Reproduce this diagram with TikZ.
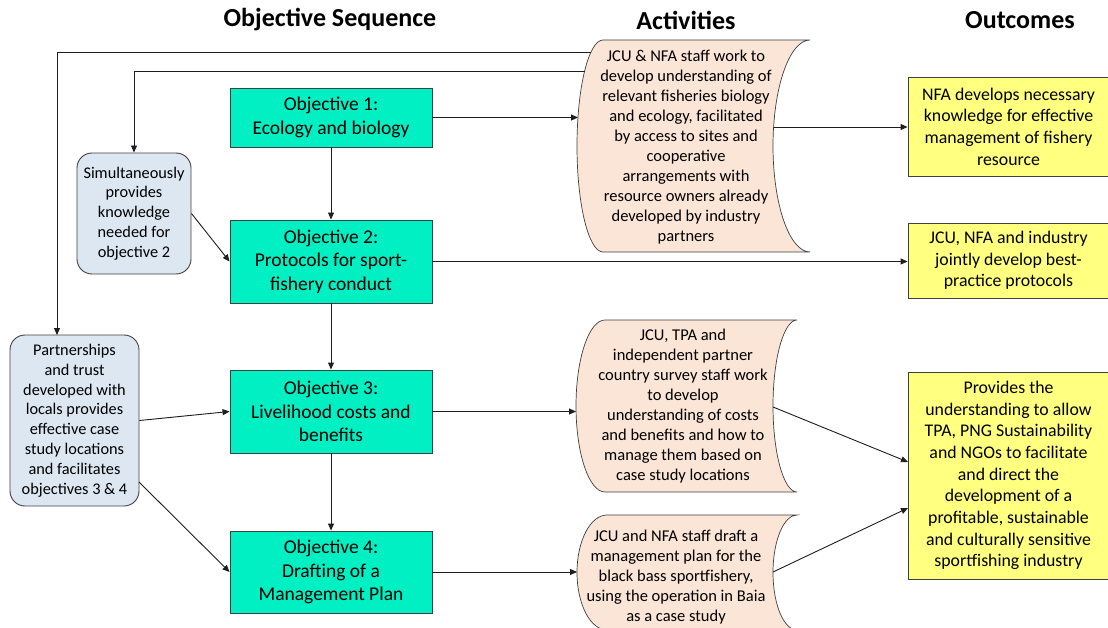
\documentclass[tikz,border=0pt]{standalone}
\usepackage{fontspec}
\setmainfont{Carlito}
\usetikzlibrary{arrows.meta}
\definecolor{objgreen}{RGB}{0,240,195}
\definecolor{bluebox}{RGB}{221,231,242}
\definecolor{peach}{RGB}{251,229,214}
\definecolor{yellowbox}{RGB}{255,255,128}
\definecolor{bordergray}{RGB}{64,64,64}
\definecolor{linegray}{RGB}{30,30,30}
\newcommand{\myactshape}[6]{%
 \pgfmathsetmacro{\actMid}{(#1+#2)/2}%
 \pgfmathsetmacro{\actRy}{0.5523*(#2-#1)/2}%
 \pgfmathsetmacro{\actCL}{#3-0.5523*(#3-#4)}%
 \pgfmathsetmacro{\actCR}{#5-0.5523*(#5-#6)}%
 \draw[actbox] (#3,#1) -- (#5,#1) .. controls (\actCR,#1) and (#6,\actMid-\actRy) .. (#6,\actMid)
   .. controls (#6,\actMid+\actRy) and (\actCR,#2) .. (#5,#2) -- (#3,#2)
   .. controls (\actCL,#2) and (#4,\actMid+\actRy) .. (#4,\actMid)
   .. controls (#4,\actMid-\actRy) and (\actCL,#1) .. (#3,#1) -- cycle;
}
\tikzset{
  header/.style={font=\fontsize{26}{30}\selectfont\bfseries, inner sep=0pt},
  objbox/.style={draw=bordergray, fill=objgreen, line width=0.9pt, minimum width=202pt, align=center, inner sep=0pt, font=\fontsize{19.5}{23.5}\selectfont},
  outbox/.style={draw=bordergray, fill=yellowbox, line width=0.9pt, minimum width=201pt, align=center, inner sep=0pt, font=\fontsize{17.8}{21.7}\selectfont},
  notebox/.style={draw=bordergray, fill=bluebox, line width=0.9pt, rounded corners=15pt, align=center, inner sep=0pt, font=\fontsize{16.3}{19.8}\selectfont},
  acttext/.style={align=center, inner sep=0pt, font=\fontsize{16.5}{20}\selectfont},
  actbox/.style={draw=bordergray, fill=peach, line width=0.7pt},
  conn/.style={draw=linegray, line width=0.9pt, -{Triangle[length=7pt,width=6pt]}},
  plain/.style={draw=linegray, line width=0.9pt}
}
\begin{document}
\begin{tikzpicture}[x=1pt,y=-1pt]
\clip (0,0) rectangle (1108,628);
\fill[white] (0,0) rectangle (1108,628);

% headers
\node[header] (h1) at (330,20) {Objective Sequence};
\node[header] (h2) at (686,20) {Activities};
\node[header] (h3) at (1020,20) {Outcomes};

% activity shapes
\myactshape{40}{252}{603}{577}{810}{773}
\myactshape{320}{492}{605}{576}{797}{773}
\myactshape{515}{630}{607}{577}{797}{773}

\node[acttext] (a1) at (686,147) {JCU \& NFA staff work to\\develop understanding of\\relevant fisheries biology\\and ecology, facilitated\\by access to sites and\\cooperative\\arrangements with\\resource owners already\\developed by industry\\partners};
\node[acttext] (a2) at (683,406.5) {JCU, TPA and\\independent partner\\country survey staff work\\to develop\\understanding of costs\\and benefits and how to\\manage them based on\\case study locations};
\node[acttext] (a3) at (676,577.5) {JCU and NFA staff draft a\\management plan for the\\black bass sportfishery,\\using the operation in Baia\\as a case study};

% activity connection points
\coordinate (a1in) at (578,117.5);
\coordinate (a1t1) at (591,52);
\coordinate (a1t2) at (584.6,71);
\coordinate (a1out) at (773.6,127);
\coordinate (a2in) at (576,411.5);
\coordinate (a2out) at (773,407);
\coordinate (a3in) at (577,572);
\coordinate (a3out) at (773,572);

% objectives
\node[objbox, minimum height=59pt] (o1) at (331,117.5) {Objective 1:\\Ecology and biology};
\node[objbox, minimum height=83pt] (o2) at (331,261.5) {Objective 2:\\Protocols for sport-\\fishery conduct};
\node[objbox, minimum height=83pt] (o3) at (331,411.5) {Objective 3:\\Livelihood costs and\\benefits};
\node[objbox, minimum height=82pt] (o4) at (331,572) {Objective 4:\\Drafting of a\\Management Plan};

% notes
\node[notebox, minimum width=114pt, minimum height=121pt] (b1) at (134,213.5) {Simultaneously\\provides\\knowledge\\needed for\\objective 2};
\node[notebox, minimum width=129pt, minimum height=171pt] (b2) at (74.5,420.5) {Partnerships\\and trust\\developed with\\locals provides\\effective case\\study locations\\and facilitates\\objectives 3 \& 4};
\coordinate (b2in) at (57,335);
\coordinate (b2se) at (139,482);

% outcomes
\node[outbox, minimum height=99pt] (r1) at (1008.5,126.5) {NFA develops necessary\\knowledge for effective\\management of fishery\\resource};
\node[outbox, minimum height=75pt] (r2) at (1008.5,260.5) {JCU, NFA and industry\\jointly develop best-\\practice protocols};
\node[outbox, minimum height=207pt] (r3) at (1008.5,475.5) {Provides the\\understanding to allow\\TPA, PNG Sustainability\\and NGOs to facilitate\\and direct the\\development of a\\profitable, sustainable\\and culturally sensitive\\sportfishing industry};
\coordinate (r3a) at (908,462);
\coordinate (r3b) at (908,508);

% connectors
\draw[conn] (o1.south) -- (o2.north);
\draw[conn] (o2.south) -- (o3.north);
\draw[conn] (o3.south) -- (o4.north);
\draw[conn] (o1.east) -- (a1in);
\draw[conn] (o2.east) -- (o2.east -| r2.west);
\draw[conn] (o3.east) -- (a2in);
\draw[conn] (o4.east) -- (a3in);
\draw[conn] (a1out) -- (a1out -| r1.west);
\draw[conn] (a2out) -- (r3a);
\draw[conn] (a3out) -- (r3b);
\draw[conn] (a1t1) -| (b2in);
\draw[conn] (a1t2) -| (b1.north);
\draw[conn] (b1.east) -- (o2.west);
\draw[conn] (b2.east) -- (o3.west);
\draw[conn] (b2se) -- (o4.west);
\end{tikzpicture}
\end{document}
